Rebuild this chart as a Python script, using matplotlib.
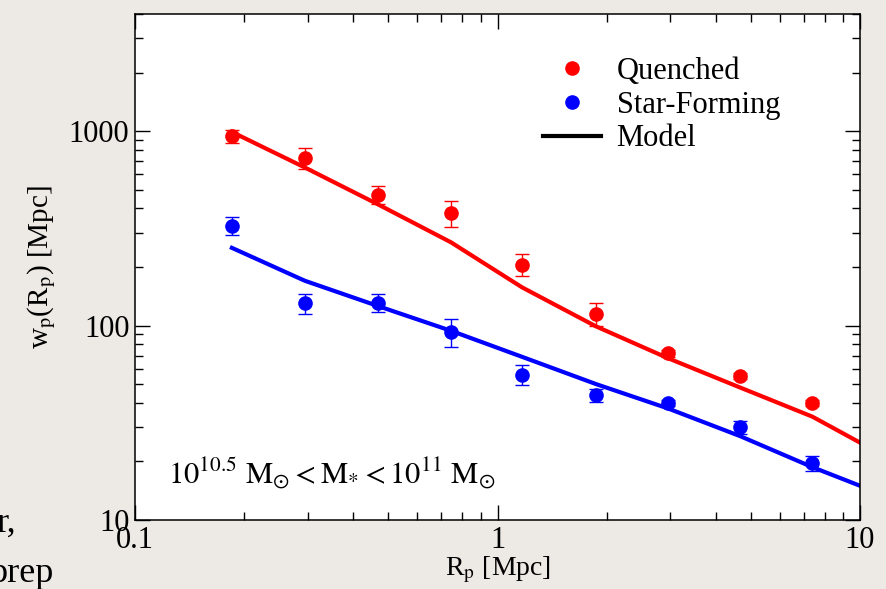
import numpy as np
import matplotlib
matplotlib.use("Agg")
import matplotlib.pyplot as plt
from matplotlib.ticker import LogLocator, NullFormatter, FixedLocator, FixedFormatter

plt.rcParams['font.family'] = ['Liberation Serif', 'DejaVu Serif']
plt.rcParams['mathtext.fontset'] = 'stix'

# projected correlation function, 10^10.5 < M* < 10^11 Msun
rp = [0.185, 0.294, 0.468, 0.744, 1.17, 1.87, 2.95, 4.67, 7.39]

wp_quenched = [942, 727, 470, 380, 206, 115, 72, 55, 40]
err_quenched = [70, 90, 49, 58, 26, 15, 3, 2, 1.5]

wp_sf = [326, 130, 131, 93, 56, 43.8, 40, 30, 19.6]
err_sf = [34, 15, 14, 15, 6.7, 3.5, 1.5, 2.4, 1.7]

# model curves
rp_model = [0.185, 0.294, 0.468, 0.744, 1.17, 1.87, 2.95, 4.67, 7.39, 10]
model_quenched = [990, 650, 420, 268, 157, 99, 68, 48, 34, 25]
model_sf = [251, 170, 126, 94, 69, 50, 37.5, 27, 18.7, 15]

bg = '#edeae5'
fig = plt.figure(figsize=(8.86, 5.89), dpi=100, facecolor=bg)
ax = fig.add_axes([0.1524, 0.1171, 0.8183, 0.8591])
ax.set_facecolor('white')

ax.plot(rp_model, model_quenched, color='#ff0000', lw=3.0, zorder=2)
ax.plot(rp_model, model_sf, color='#0000ff', lw=3.0, zorder=2)

ax.errorbar(rp, wp_quenched, yerr=err_quenched, fmt='o', color='#ff0000',
            ms=9.5, elinewidth=1.0, capsize=5, capthick=1.0, zorder=3)
ax.errorbar(rp, wp_sf, yerr=err_sf, fmt='o', color='#0000ff',
            ms=9.5, elinewidth=1.0, capsize=5, capthick=1.0, zorder=3)

ax.set_xscale('log')
ax.set_yscale('log')
ax.set_xlim(0.1, 10)
ax.set_ylim(10, 4000)

ax.xaxis.set_major_locator(FixedLocator([0.1, 1, 10]))
ax.xaxis.set_major_formatter(FixedFormatter(['0.1', '1', '10']))
ax.yaxis.set_major_locator(FixedLocator([10, 100, 1000]))
ax.yaxis.set_major_formatter(FixedFormatter(['10', '100', '1000']))
ax.xaxis.set_minor_locator(LogLocator(base=10, subs=np.arange(2, 10)))
ax.yaxis.set_minor_locator(LogLocator(base=10, subs=np.arange(2, 10)))
ax.xaxis.set_minor_formatter(NullFormatter())
ax.yaxis.set_minor_formatter(NullFormatter())

ax.tick_params(which='both', direction='in', top=True, right=True, width=1.0)
ax.tick_params(which='major', length=10.5, labelsize=22, pad=4)
ax.tick_params(which='minor', length=5.5)
for s in ax.spines.values():
    s.set_linewidth(1.1)

ax.set_xlabel(r'R$_\mathrm{p}$ [Mpc]', fontsize=20, labelpad=0)
ax.set_ylabel(r'w$_\mathrm{p}$(R$_\mathrm{p}$) [Mpc]', fontsize=21, labelpad=8)

ax.text(0.045, 0.073,
        r'$10^{10.5}\ \mathrm{M}_{\odot} < \mathrm{M}_{*} < 10^{11}\ \mathrm{M}_{\odot}$',
        transform=ax.transAxes, fontsize=22, ha='left', va='baseline')

# legend
hq, = ax.plot([], [], 'o', color='#ff0000', ms=9.5)
hs, = ax.plot([], [], 'o', color='#0000ff', ms=9.5)
hm, = ax.plot([], [], '-', color='black', lw=3.0)
ax.legend([hq, hs, hm], ['Quenched', 'Star-Forming', 'Model'],
          loc='upper left', bbox_to_anchor=(0.563, 0.915), frameon=False,
          fontsize=22, handlelength=1.9, handletextpad=0.5,
          labelspacing=0.15, borderpad=0, borderaxespad=0)

# slide text around the figure
fig.text(16 / 886, 1 - 532 / 589, 'r,', fontsize=26, ha='right', va='baseline')
fig.text(-11 / 886, 1 - 582 / 589, 'prep', fontsize=26, ha='left', va='baseline')

fig.savefig('out.png', dpi=100, facecolor=bg)
